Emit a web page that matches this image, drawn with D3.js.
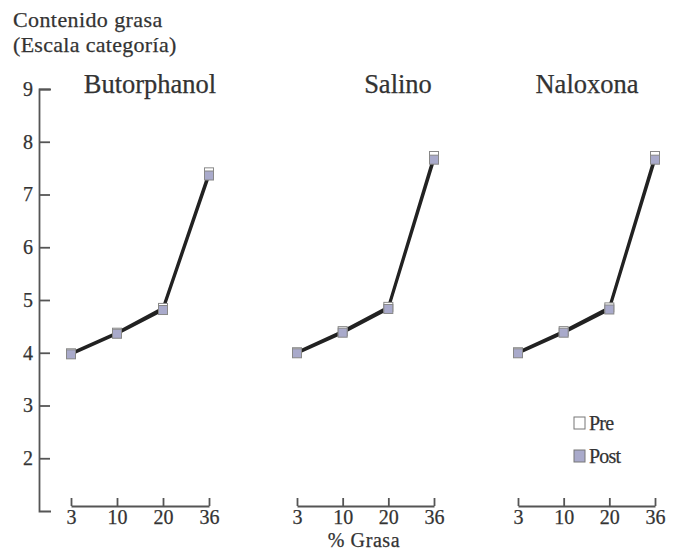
<!DOCTYPE html>
<html>
<head>
<meta charset="utf-8">
<script src="https://cdn.jsdelivr.net/npm/d3@7"></script>
<style>
  html, body { margin: 0; padding: 0; background: #fff; }
  svg { display: block; }
  text { font-family: "Liberation Serif", "DejaVu Serif", serif; fill: #333; stroke: #333; stroke-width: 0.25; }
</style>
</head>
<body>
<svg id="chart" width="677" height="554"></svg>
<script>
// Fat content ratings by % fat, for three treatments, before and after
const fatLevels = ["3", "10", "20", "36"];
const treatments = ["Butorphanol", "Salino", "Naloxona"];
const preValues = [
  [3.99, 4.38, 4.85, 7.42],
  [4.01, 4.41, 4.87, 7.73],
  [4.01, 4.41, 4.86, 7.73]
];
const postValues = [
  [3.97, 4.36, 4.81, 7.36],
  [3.99, 4.38, 4.83, 7.66],
  [3.99, 4.38, 4.82, 7.66]
];
const yTicks = [2, 3, 4, 5, 6, 7, 8, 9];
const legendLabels = ["Pre", "Post"];

const svg = d3.select("#chart");
const axisColor = "#555";
const preFill = "#ffffff";
const postFill = "#a9aacb";
const serif = "Liberation Serif, serif";

// Shared vertical scale
const y = d3.scaleLinear().domain([1, 9]).range([511, 89]);

// Panel horizontal extents (first to last fat level)
const panelRanges = [[71, 209], [297, 434], [518, 655]];
const titleCenters = [150, 398, 587];

// Axis titles
svg.append("text").attr("x", 13).attr("y", 27).attr("font-size", 22)
  .attr("letter-spacing", 0.4).text("Contenido grasa");
svg.append("text").attr("x", 13).attr("y", 52).attr("font-size", 22)
  .attr("letter-spacing", 0.3).text("(Escala categoría)");

// Y axis with ticks pointing right
const yAxis = d3.axisLeft(y)
  .tickValues(yTicks)
  .tickFormat(d3.format("d"))
  .tickSizeInner(-11)
  .tickSizeOuter(-12)
  .tickPadding(6);
const gy = svg.append("g").attr("transform", "translate(39,0)").call(yAxis);
gy.selectAll("path, line").attr("stroke", axisColor).attr("stroke-width", 1.8);
gy.selectAll("text").attr("font-size", 20).attr("font-family", serif)
  .attr("fill", "#333").attr("stroke", "#333").attr("stroke-width", 0.25);

const line = d3.line();

treatments.forEach((name, i) => {
  const x = d3.scalePoint().domain(fatLevels).range(panelRanges[i]).padding(0);

  // Category axis with upward ticks
  const xAxis = d3.axisBottom(x).tickSizeInner(-8).tickSizeOuter(0).tickPadding(4);
  const gx = svg.append("g").attr("transform", "translate(0,506)").call(xAxis);
  gx.selectAll("path, line").attr("stroke", axisColor).attr("stroke-width", 1.8);
  gx.selectAll("text").attr("font-size", 20).attr("font-family", serif)
    .attr("fill", "#333").attr("stroke", "#333").attr("stroke-width", 0.25);

  // Panel title
  svg.append("text")
    .attr("x", titleCenters[i]).attr("y", 93)
    .attr("text-anchor", "middle").attr("font-size", 26.5)
    .text(name);

  const series = [
    { vals: preValues[i], fill: preFill },
    { vals: postValues[i], fill: postFill }
  ];

  series.forEach(s => {
    svg.append("path")
      .attr("d", line(fatLevels.map((f, k) => [x(f), y(s.vals[k])])))
      .attr("fill", "none").attr("stroke", "#222").attr("stroke-width", 2.6);
  });

  series.forEach(s => {
    svg.append("g").selectAll("rect")
      .data(fatLevels.map((f, k) => ({ f, v: s.vals[k] })))
      .join("rect")
      .attr("x", d => x(d.f) - 4.5)
      .attr("y", d => y(d.v) - 4.5)
      .attr("width", 9).attr("height", 9)
      .attr("fill", s.fill).attr("stroke", "#888").attr("stroke-width", 1);
  });
});

// X axis title
svg.append("text").attr("x", 364).attr("y", 547).attr("text-anchor", "middle")
  .attr("font-size", 20).attr("letter-spacing", 0.6).text("% Grasa");

// Legend
const legend = svg.append("g");
legendLabels.forEach((lab, i) => {
  const ly = 423 + i * 33;
  legend.append("rect")
    .attr("x", 574).attr("y", ly - 6).attr("width", 11).attr("height", 12)
    .attr("fill", i === 0 ? preFill : postFill)
    .attr("stroke", "#777").attr("stroke-width", 1);
  legend.append("text").attr("x", 589).attr("y", ly + 7)
    .attr("font-size", 20).attr("letter-spacing", -0.8).text(lab);
});
</script>
</body>
</html>
